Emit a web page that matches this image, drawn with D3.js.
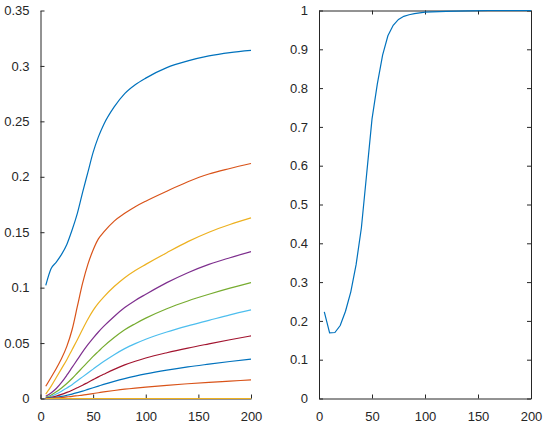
<!DOCTYPE html>
<html>
<head>
<meta charset="utf-8">
<script src="https://cdn.jsdelivr.net/npm/d3@7"></script>
<style>
  body { margin: 0; background: #fff; }
  svg { display: block; font-family: "Liberation Sans", Arial, sans-serif; }
</style>
</head>
<body>
<svg width="548" height="426"></svg>
<script>
// x positions of the samples
const xLeft  = [5, 10, 15, 20, 25, 30, 35, 40, 45, 50, 55, 60, 70, 80, 90, 100, 120, 140, 160, 180, 200];
const xRight = [5, 10, 15, 20, 25, 30, 35, 40, 45, 50, 55, 60, 65, 70, 75, 80, 85, 90, 95, 100, 120, 140, 160, 180, 200];

// left panel, one array per line (top to bottom)
const curve1  = [0.102, 0.117, 0.123, 0.130, 0.139, 0.152, 0.167, 0.186, 0.204, 0.222, 0.236, 0.247, 0.263, 0.275, 0.283, 0.289, 0.2985, 0.3045, 0.309, 0.312, 0.314];
const curve2  = [0.011, 0.019, 0.027, 0.036, 0.047, 0.062, 0.083, 0.104, 0.121, 0.134, 0.144, 0.150, 0.160, 0.167, 0.173, 0.178, 0.187, 0.1955, 0.2025, 0.2075, 0.212];
const curve3  = [0.004, 0.011, 0.019, 0.027, 0.035, 0.044, 0.053, 0.0625, 0.0715, 0.0795, 0.086, 0.0915, 0.101, 0.109, 0.1155, 0.121, 0.1315, 0.1415, 0.150, 0.157, 0.163];
const curve4  = [0.002, 0.005, 0.009, 0.0145, 0.021, 0.028, 0.035, 0.042, 0.0485, 0.0545, 0.060, 0.065, 0.074, 0.082, 0.0885, 0.094, 0.1045, 0.1135, 0.121, 0.127, 0.1325];
const curve5  = [0.001, 0.003, 0.006, 0.0095, 0.0135, 0.018, 0.023, 0.028, 0.033, 0.038, 0.0425, 0.047, 0.055, 0.062, 0.0675, 0.0725, 0.081, 0.088, 0.094, 0.0995, 0.1045];
const curve6  = [0.0005, 0.002, 0.004, 0.0065, 0.0095, 0.0125, 0.016, 0.0195, 0.023, 0.0265, 0.030, 0.0333, 0.0395, 0.045, 0.0495, 0.0535, 0.060, 0.0655, 0.0705, 0.0755, 0.080];
const curve7  = [0.0003, 0.001, 0.0022, 0.0037, 0.0055, 0.0075, 0.0097, 0.012, 0.0145, 0.017, 0.0195, 0.0218, 0.0263, 0.0303, 0.0336, 0.0365, 0.0413, 0.0455, 0.0493, 0.053, 0.0565];
const curve8  = [0.0001, 0.0005, 0.0011, 0.0019, 0.0029, 0.004, 0.0053, 0.0067, 0.0082, 0.0097, 0.0112, 0.0127, 0.0155, 0.018, 0.0202, 0.0222, 0.0256, 0.0285, 0.031, 0.0334, 0.0356];
const curve9  = [0, 0.0002, 0.0005, 0.0009, 0.0014, 0.0019, 0.0025, 0.0031, 0.0038, 0.0045, 0.0052, 0.0059, 0.0072, 0.0084, 0.0094, 0.0103, 0.0119, 0.0133, 0.0146, 0.0157, 0.0168];
const curve10 = [0, 0, 0, 0, 0, 0, 0, 0, 0, 0, 0, 0, 0, 0, 0, 0, 0, 0, 0, 0, 0];

// right panel
const rightValues = [0.223, 0.169, 0.170, 0.188, 0.225, 0.275, 0.345, 0.44, 0.58, 0.72, 0.81, 0.885, 0.935, 0.962, 0.977, 0.985, 0.989, 0.992, 0.994, 0.996, 0.998, 0.999, 1, 1, 1];

// ticks
const xTicks = [0, 50, 100, 150, 200];
const leftYTicks = [0, 0.05, 0.1, 0.15, 0.2, 0.25, 0.3, 0.35];
const rightYTicks = [0, 0.1, 0.2, 0.3, 0.4, 0.5, 0.6, 0.7, 0.8, 0.9, 1];

const colors = ["#0072BD", "#D95319", "#EDB120", "#7E2F8E", "#77AC30", "#4DBEEE", "#A2142F"];
const leftCurves = [curve1, curve2, curve3, curve4, curve5, curve6, curve7, curve8, curve9, curve10];

const svg = d3.select("svg");
const axisColor = "#262626";
const plotTop = 10.5, plotBottom = 398.5, tickLen = 4;

// draws one panel's axes; box = true adds top and right lines with ticks
function drawAxes(x, y, yTicks, box) {
    const g = svg.append("g");

    const yAxis = d3.axisLeft(y).tickValues(yTicks).tickSizeInner(-tickLen).tickSizeOuter(0)
        .tickPadding(7 + tickLen).tickFormat(d3.format("~g"));
    const xAxis = d3.axisBottom(x).tickValues(xTicks).tickSizeInner(-tickLen).tickSizeOuter(0)
        .tickPadding(9 + tickLen);

    g.append("g").attr("transform", `translate(${x.range()[0]},0)`).call(yAxis);
    g.append("g").attr("transform", `translate(0,${plotBottom})`).call(xAxis);

    if (box) {
        g.append("g").attr("transform", `translate(${x.range()[1]},0)`)
            .call(d3.axisRight(y).tickValues(yTicks).tickSizeInner(-tickLen).tickSizeOuter(0).tickFormat(""));
        g.append("g").attr("transform", `translate(0,${plotTop})`)
            .call(d3.axisTop(x).tickValues(xTicks).tickSizeInner(-tickLen).tickSizeOuter(0).tickFormat(""));
    }

    g.selectAll(".domain").attr("stroke", axisColor).attr("stroke-width", 1);
    g.selectAll(".tick line").attr("stroke", axisColor).attr("stroke-width", 1);
    g.selectAll(".tick text").attr("fill", axisColor).style("font-size", "13px");
    g.selectAll(".tick text").style("font-family", "'Liberation Sans', Arial, sans-serif");
}

// left panel
const xL = d3.scaleLinear().domain([0, 200]).range([40.5, 251]);
const yL = d3.scaleLinear().domain([0, 0.35]).range([plotBottom, plotTop]);
drawAxes(xL, yL, leftYTicks, false);

const lineL = d3.line()
    .x((d, i) => xL(xLeft[i]))
    .y(d => yL(d))
    .curve(d3.curveMonotoneX);

leftCurves.forEach((c, i) => {
    svg.append("path")
        .attr("d", lineL(c))
        .attr("fill", "none")
        .attr("stroke", colors[i % colors.length])
        .attr("stroke-width", 1.2);
});

// right panel
const xR = d3.scaleLinear().domain([0, 200]).range([319, 531]);
const yR = d3.scaleLinear().domain([0, 1]).range([plotBottom, plotTop]);
drawAxes(xR, yR, rightYTicks, true);

const lineR = d3.line()
    .x((d, i) => xR(xRight[i]))
    .y(d => yR(d));

svg.append("path")
    .attr("d", lineR(rightValues))
    .attr("fill", "none")
    .attr("stroke", colors[0])
    .attr("stroke-width", 1.2);
</script>
</body>
</html>
